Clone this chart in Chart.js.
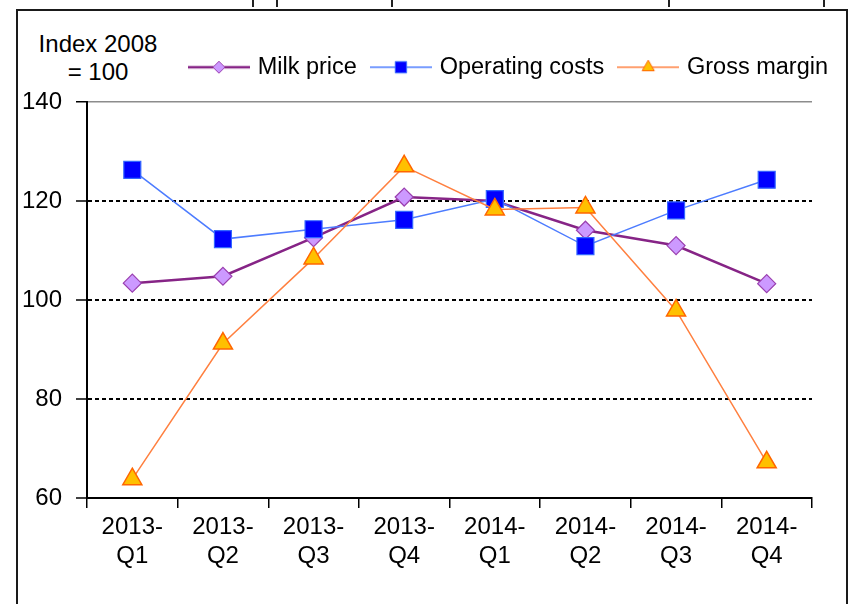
<!DOCTYPE html>
<html>
<head>
<meta charset="utf-8">
<script src="https://cdn.jsdelivr.net/npm/chart.js@4.4.1/dist/chart.umd.min.js"></script>
<style>
  html, body { margin: 0; padding: 0; background: #fff; overflow: hidden; }
  #wrap { position: relative; width: 848px; height: 604px; font-family: 'Liberation Sans', Arial, sans-serif; }
  #frame { position: absolute; left: 16px; top: 9px; width: 828px; height: 620px; border: 2px solid #1a1a1a; border-bottom: none; }
  .mark { position: absolute; top: 0; width: 2px; height: 7px; background: #222; }
  #unit { position: absolute; left: 29px; top: 30px; width: 138px; text-align: center; font-size: 24px; line-height: 28px; color: #000; }
  canvas { position: absolute; left: 0; top: 0; }
</style>
</head>
<body>
<div id="wrap">
  <div id="frame"></div>
  <div class="mark" style="left:252px"></div>
  <div class="mark" style="left:276px"></div>
  <div class="mark" style="left:391px"></div>
  <div class="mark" style="left:668px"></div>
  <div class="mark" style="left:823px"></div>
  <div id="unit">Index 2008<br>= 100</div>
  <canvas id="chart" width="848" height="604"></canvas>
</div>
<script>
// quarters on the x axis
const quarters = [
  ['2013-', 'Q1'], ['2013-', 'Q2'], ['2013-', 'Q3'], ['2013-', 'Q4'],
  ['2014-', 'Q1'], ['2014-', 'Q2'], ['2014-', 'Q3'], ['2014-', 'Q4']
];

// index values, 2008 = 100
const milkPrice = [103.4, 104.8, 112.6, 120.8, 120.0, 114.1, 111.0, 103.3];
const operatingCosts = [126.3, 112.3, 114.3, 116.2, 120.4, 110.9, 118.1, 124.3];
const grossMargin = [63.8, 91.2, 108.4, 127.0, 118.3, 118.7, 97.9, 67.2];

const seriesNames = ['Milk price', 'Operating costs', 'Gross margin'];
const yTicks = [60, 80, 100, 120, 140];

const FONT = "'Liberation Sans', Arial, sans-serif";

// little line+marker pictures for the legend
function legendIcon(lineColor, lineWidth, style, radius, fill, stroke) {
  const c = document.createElement('canvas');
  c.width = 62;
  c.height = 22;
  const ctx = c.getContext('2d');
  ctx.strokeStyle = lineColor;
  ctx.lineWidth = lineWidth;
  ctx.beginPath();
  ctx.moveTo(0, 11);
  ctx.lineTo(62, 11);
  ctx.stroke();
  ctx.fillStyle = fill;
  ctx.strokeStyle = stroke;
  ctx.lineWidth = 1;
  Chart.helpers.drawPoint(ctx, {pointStyle: style, radius: radius, rotation: 0, borderWidth: 1}, 31, 11);
  return c;
}

const icons = [
  legendIcon('#862486', 2.5, 'rectRot', 6, '#cc99ff', '#9b40b0'),
  legendIcon('#4d7cff', 1.5, 'rect', 8, '#0000ff', '#3366ff'),
  legendIcon('#ff8040', 1.5, 'triangle', 7, '#ffc000', '#ff6600')
];

// the legend sits a bit higher above the plot than chart.js puts it
const liftLegend = {
  id: 'liftLegend',
  afterLayout(chart) {
    chart.legend.top -= 13;
    chart.legend.bottom -= 13;
  }
};

const ctx = document.getElementById('chart');

new Chart(ctx, {
  type: 'line',
  data: {
    labels: quarters,
    datasets: [{
      label: seriesNames[0],
      data: milkPrice,
      order: 3,
      borderColor: '#862486',
      borderWidth: 2.5,
      pointStyle: 'rectRot',
      pointRadius: 9,
      pointBackgroundColor: '#cc99ff',
      pointBorderColor: '#9b40b0',
      pointBorderWidth: 1.2
    }, {
      label: seriesNames[1],
      data: operatingCosts,
      order: 2,
      borderColor: '#4d7cff',
      borderWidth: 1.5,
      pointStyle: 'rect',
      pointRadius: 12,
      pointBackgroundColor: '#0000ff',
      pointBorderColor: '#3366ff',
      pointBorderWidth: 1.2
    }, {
      label: seriesNames[2],
      data: grossMargin,
      order: 1,
      borderColor: '#ff8040',
      borderWidth: 1.5,
      pointStyle: 'triangle',
      pointRadius: 11,
      pointBackgroundColor: '#ffc000',
      pointBorderColor: '#ff6600',
      pointBorderWidth: 1.5
    }]
  },
  plugins: [liftLegend],
  options: {
    responsive: false,
    animation: false,
    events: [],
    layout: { padding: { top: 28, right: 3, left: 0, bottom: 0 } },
    elements: { line: { tension: 0 } },
    plugins: {
      tooltip: { enabled: false },
      legend: {
        position: 'top',
        align: 'end',
        labels: {
          usePointStyle: true,
          pointStyleWidth: 54,
          padding: 17,
          color: '#000',
          font: { family: FONT, size: 23.5 },
          generateLabels(chart) {
            const items = Chart.defaults.plugins.legend.labels.generateLabels(chart);
            items.sort((a, b) => a.datasetIndex - b.datasetIndex);
            items.forEach(it => { it.pointStyle = icons[it.datasetIndex]; });
            return items;
          }
        }
      }
    },
    scales: {
      x: {
        offset: true,
        grid: {
          offset: true,
          drawOnChartArea: true,
          color: c => c.index === quarters.length ? '#8c8c8c' : 'rgba(0,0,0,0)',
          lineWidth: 1.5,
          tickColor: '#000',
          tickLength: 10,
          tickWidth: 1.5
        },
        border: { color: '#000', width: 2 },
        ticks: {
          color: '#000',
          padding: 5,
          maxRotation: 0,
          font: { family: FONT, size: 24, lineHeight: 1.2 }
        },
        afterFit(axis) {
          axis.height = 106;
          axis.paddingRight = 36;
        }
      },
      y: {
        min: yTicks[0],
        max: yTicks[yTicks.length - 1],
        afterBuildTicks(axis) {
          axis.ticks = yTicks.map(v => ({ value: v }));
        },
        grid: {
          color: c => c.tick.value === 140 ? '#8c8c8c' : (c.tick.value === 60 ? 'rgba(0,0,0,0)' : '#000'),
          lineWidth: c => c.tick.value === 140 ? 1.5 : 2,
          tickColor: '#000',
          tickLength: 11,
          tickWidth: 1.5
        },
        border: {
          color: '#000',
          width: 2,
          dash: c => (c.tick && c.tick.value > 60 && c.tick.value < 140) ? [4, 3] : []
        },
        ticks: {
          color: '#000',
          padding: 14,
          font: { family: FONT, size: 24 }
        },
        afterFit(axis) {
          axis.width = 87;
          axis.paddingTop = 102;
        }
      }
    }
  }
});
</script>
</body>
</html>
